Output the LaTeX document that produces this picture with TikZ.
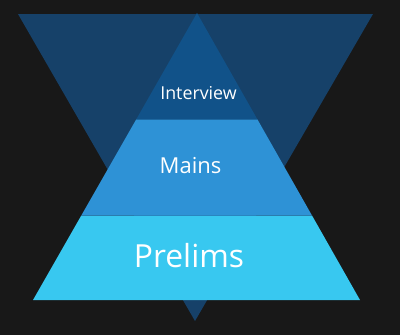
\documentclass[tikz,border=0pt]{standalone}
\usepackage{fontspec}
\setmainfont{Open Sans}
\usepackage{tikz}
\usetikzlibrary{calc}
\definecolor{fondo}    {RGB}{24, 24, 24}
\definecolor{embudo}   {RGB}{22, 65,105}
\definecolor{nivelA}   {RGB}{17, 82,137}
\definecolor{nivelB}   {RGB}{46,146,214}
\definecolor{nivelC}   {RGB}{56,200,240}
\begin{document}
\begin{tikzpicture}[x=1pt,y=-1pt,
  etiqueta/.style={text=white,inner sep=0pt,anchor=center}]
\fill[fondo] (0,0) rectangle (400,335);
\useasboundingbox (0,0) rectangle (400,335);
% embudo invertido
\fill[embudo] (18,14) -- (373,14) -- (195,321) -- cycle;
% piramide
\coordinate (cima) at (197,13);
\coordinate (bi) at (33,300);
\coordinate (bd) at (360,300);
\fill[nivelC] ($(cima)!0.7056!(bi)$) -- (bi) -- (bd) -- ($(cima)!0.7056!(bd)$) -- cycle;
\fill[nivelB] ($(cima)!0.371!(bi)$) -- ($(cima)!0.7056!(bi)$) -- ($(cima)!0.7056!(bd)$) -- ($(cima)!0.371!(bd)$) -- cycle;
\fill[nivelA] (cima) -- ($(cima)!0.371!(bi)$) -- ($(cima)!0.371!(bd)$) -- cycle;
% textos
\node[etiqueta,font=\fontsize{17.8}{20}\selectfont] (entrevista) at (198.5,93) {Interview};
\node[etiqueta,font=\fontsize{22}{24}\selectfont] (mains) at (190.5,166) {Mains};
\node[etiqueta,font=\fontsize{31.8}{34}\selectfont] (prelims) at (189,256) {Prelims};
\end{tikzpicture}
\end{document}
